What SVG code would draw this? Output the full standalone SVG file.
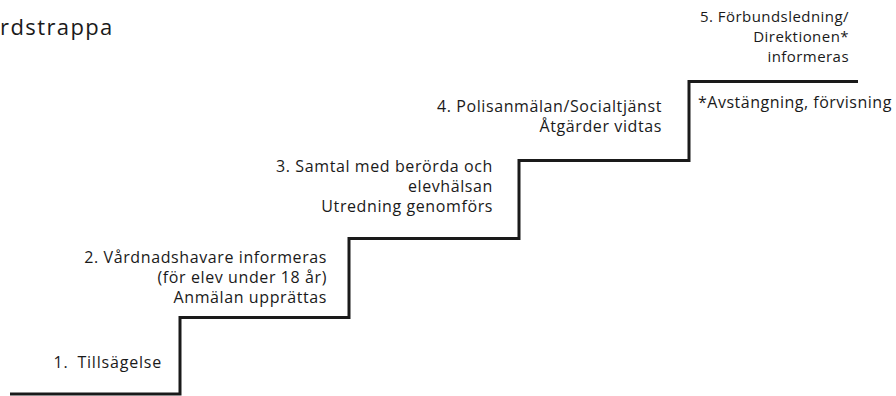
<svg xmlns="http://www.w3.org/2000/svg" width="896" height="396" viewBox="0 0 896 396">
<style>
text{font-family:"Open Sans","Noto Sans","DejaVu Sans",sans-serif;fill:#1a1a1a;font-size:16px;letter-spacing:0.6px}
.r{text-anchor:end}
.s5{font-size:15px;letter-spacing:0.45px}
.stair{fill:none;stroke:#1a1a1a;stroke-width:3;stroke-linejoin:miter}
</style>
<rect width="896" height="396" fill="#ffffff"/>
<text x="0" y="35" style="font-size:22px;letter-spacing:1.4px">rdstrappa</text>
<g id="connectors">
<path class="stair" d="M10 394 H180 V317.5 H349 V238.5 H519 V160.5 H689 V81.5 H858"/>
</g>
<g id="step1"><text class="r" x="162" y="368" style="letter-spacing:0.8px">1.<tspan dx="9">Tillsägelse</tspan></text></g>
<g id="step2">
<text class="r" x="327" y="263">2. Vårdnadshavare informeras</text>
<text class="r" x="327" y="283">(för elev under 18 år)</text>
<text class="r" x="327" y="303">Anmälan upprättas</text>
</g>
<g id="step3">
<text class="r" x="493" y="172">3. Samtal med berörda och</text>
<text class="r" x="493" y="192">elevhälsan</text>
<text class="r" x="493" y="212">Utredning genomförs</text>
</g>
<g id="step4">
<text class="r" x="662" y="112">4. Polisanmälan/Socialtjänst</text>
<text class="r" x="662" y="132">Åtgärder vidtas</text>
</g>
<g id="step5">
<text class="r s5" x="849" y="22">5. Förbundsledning/</text>
<text class="r s5" x="849" y="42">Direktionen*</text>
<text class="r s5" x="849" y="62">informeras</text>
</g>
<g id="note"><text x="698" y="108" style="letter-spacing:0.5px">*Avstängning, förvisning</text></g>
</svg>
